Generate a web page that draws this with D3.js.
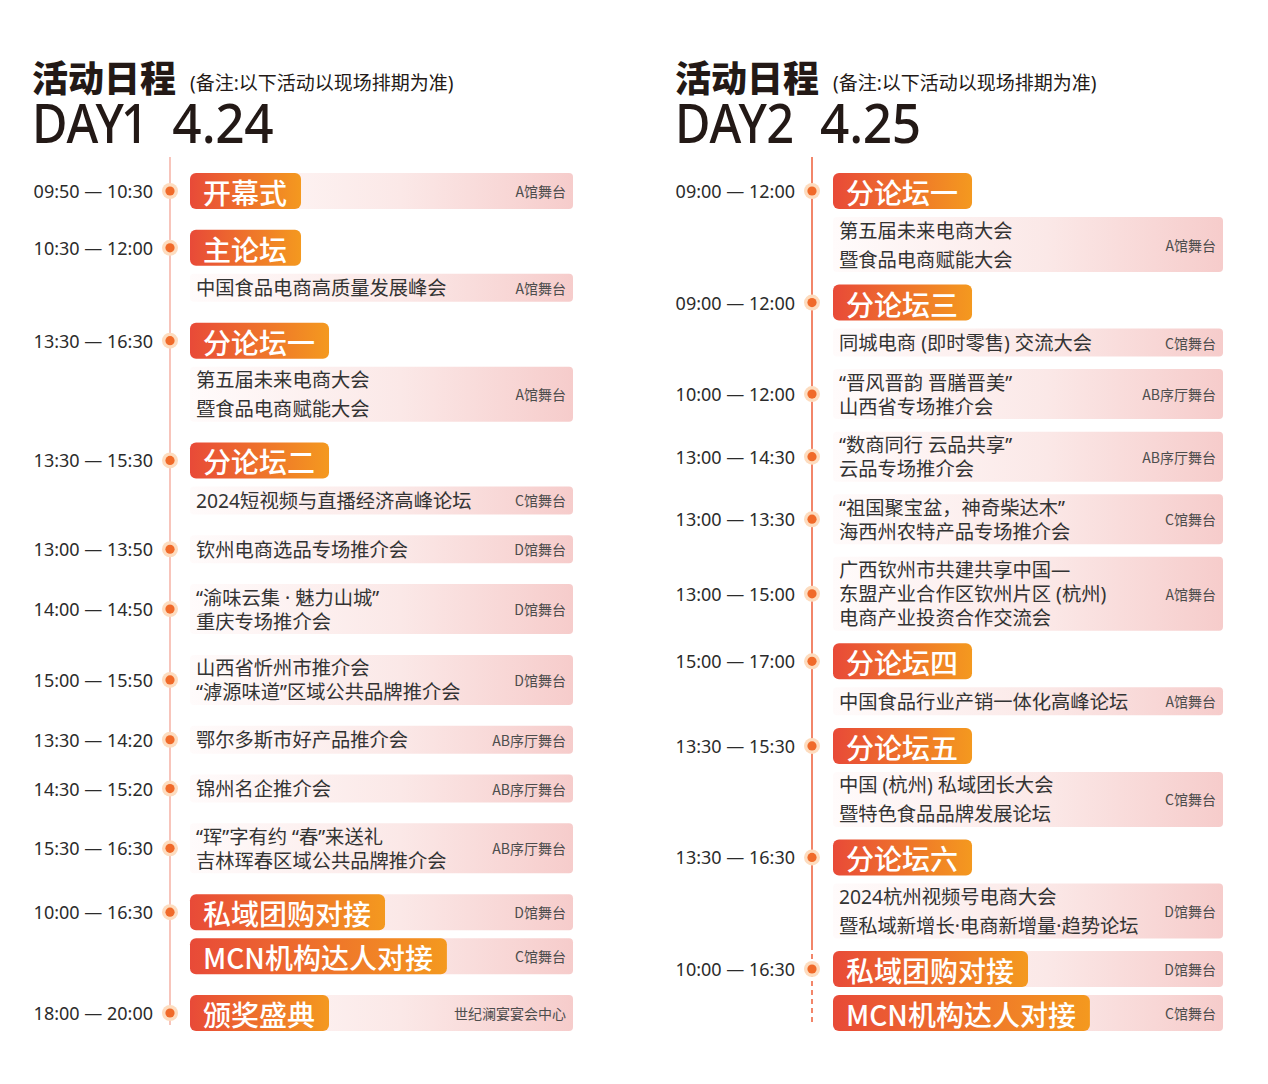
<!DOCTYPE html>
<html>
<head>
<meta charset="utf-8">
<script src="https://cdn.jsdelivr.net/npm/d3@7"></script>
<style>
  body { margin: 0; background: #fff; }
  svg { display: block; font-family: "Noto Sans CJK SC", "Noto Sans", sans-serif; }
  .latin { font-family: "Noto Sans", "Noto Sans CJK SC", sans-serif; }
  .pnum { font-variant-numeric: proportional-nums; }
</style>
</head>
<body>
<svg id="chart" width="1268" height="1084"></svg>
<script>
// ---- data ----
const headTitle = "活动日程";
const headNote = "(备注:以下活动以现场排期为准)";
const dayNames = ["DAY1", "DAY2"];
const dayDates = ["4.24", "4.25"];

const day1Times = [
  "09:50 — 10:30", "10:30 — 12:00", "13:30 — 16:30", "13:30 — 15:30",
  "13:00 — 13:50", "14:00 — 14:50", "15:00 — 15:50", "13:30 — 14:20",
  "14:30 — 15:20", "15:30 — 16:30", "10:00 — 16:30", "18:00 — 20:00"
];
const day1Blocks = [
  { slot: 0, badge: "开幕式", stage: "A馆舞台" },
  { slot: 1, badge: "主论坛" },
  { slot: 1, lines: ["中国食品电商高质量发展峰会"], stage: "A馆舞台" },
  { slot: 2, badge: "分论坛一" },
  { slot: 2, lines: ["第五届未来电商大会", "暨食品电商赋能大会"], stage: "A馆舞台" },
  { slot: 3, badge: "分论坛二" },
  { slot: 3, lines: ["2024短视频与直播经济高峰论坛"], stage: "C馆舞台" },
  { slot: 4, lines: ["钦州电商选品专场推介会"], stage: "D馆舞台" },
  { slot: 5, lines: ["“渝味云集 · 魅力山城”", "重庆专场推介会"], stage: "D馆舞台" },
  { slot: 6, lines: ["山西省忻州市推介会", "“滹源味道”区域公共品牌推介会"], stage: "D馆舞台" },
  { slot: 7, lines: ["鄂尔多斯市好产品推介会"], stage: "AB序厅舞台" },
  { slot: 8, lines: ["锦州名企推介会"], stage: "AB序厅舞台" },
  { slot: 9, lines: ["“珲”字有约 “春”来送礼", "吉林珲春区域公共品牌推介会"], stage: "AB序厅舞台" },
  { slot: 10, badge: "私域团购对接", stage: "D馆舞台" },
  { slot: 10, badge: "MCN机构达人对接", stage: "C馆舞台" },
  { slot: 11, badge: "颁奖盛典", stage: "世纪澜宴宴会中心" }
];

const day2Times = [
  "09:00 — 12:00", "09:00 — 12:00", "10:00 — 12:00", "13:00 — 14:30",
  "13:00 — 13:30", "13:00 — 15:00", "15:00 — 17:00", "13:30 — 15:30",
  "13:30 — 16:30", "10:00 — 16:30"
];
const day2Blocks = [
  { slot: 0, badge: "分论坛一" },
  { slot: 0, lines: ["第五届未来电商大会", "暨食品电商赋能大会"], stage: "A馆舞台" },
  { slot: 1, badge: "分论坛三" },
  { slot: 1, lines: ["同城电商 (即时零售) 交流大会"], stage: "C馆舞台" },
  { slot: 2, lines: ["“晋风晋韵 晋膳晋美”", "山西省专场推介会"], stage: "AB序厅舞台" },
  { slot: 3, lines: ["“数商同行 云品共享”", "云品专场推介会"], stage: "AB序厅舞台" },
  { slot: 4, lines: ["“祖国聚宝盆，神奇柴达木”", "海西州农特产品专场推介会"], stage: "C馆舞台" },
  { slot: 5, lines: ["广西钦州市共建共享中国—", "东盟产业合作区钦州片区 (杭州)", "电商产业投资合作交流会"], stage: "A馆舞台" },
  { slot: 6, badge: "分论坛四" },
  { slot: 6, lines: ["中国食品行业产销一体化高峰论坛"], stage: "A馆舞台" },
  { slot: 7, badge: "分论坛五" },
  { slot: 7, lines: ["中国 (杭州) 私域团长大会", "暨特色食品品牌发展论坛"], stage: "C馆舞台" },
  { slot: 8, badge: "分论坛六" },
  { slot: 8, lines: ["2024杭州视频号电商大会", "暨私域新增长·电商新增量·趋势论坛"], stage: "D馆舞台" },
  { slot: 9, badge: "私域团购对接", stage: "D馆舞台" },
  { slot: 9, badge: "MCN机构达人对接", stage: "C馆舞台" }
];

// ---- layout ----
const svg = d3.select("#chart");
const defs = svg.append("defs");

const badgeGrad = defs.append("linearGradient").attr("id", "badgeGrad");
badgeGrad.append("stop").attr("offset", "0%").attr("stop-color", "#e84a38");
badgeGrad.append("stop").attr("offset", "100%").attr("stop-color", "#f4991f");

const boxGrad = defs.append("linearGradient").attr("id", "boxGrad");
boxGrad.append("stop").attr("offset", "0%").attr("stop-color", "#fffbfb");
boxGrad.append("stop").attr("offset", "55%").attr("stop-color", "#fbe8e7");
boxGrad.append("stop").attr("offset", "100%").attr("stop-color", "#f6cccb");

const columns = [
  { x0: 32, lineX: 170, boxX: 190, boxR: 573, line: "#f6b6aa", dashFrom: null },
  { x0: 675, lineX: 812, boxX: 833, boxR: 1223, line: "#ef6845", dashFrom: 945 }
];

const TOP = 173, BOTTOM = 1031;
const BADGE_H = 36, INNER_GAP = 8;

function blockHeight(b) {
  if (b.badge) return BADGE_H;
  const n = b.lines.length;
  if (n === 1) return 28;
  return b.afterBadge ? 26 + (n - 1) * 29 : 26 + (n - 1) * 24;
}

function layout(blocks, nSlots) {
  blocks.forEach((b, i) => {
    b.afterBadge = i > 0 && blocks[i - 1].slot === b.slot && !!blocks[i - 1].badge;
    b.h = blockHeight(b);
  });
  let used = d3.sum(blocks, b => b.h);
  blocks.forEach((b, i) => { if (i > 0 && blocks[i - 1].slot === b.slot) used += INNER_GAP; });
  const slotGap = (BOTTOM - TOP - used) / (nSlots - 1);
  let y = TOP;
  blocks.forEach((b, i) => {
    if (i > 0) y += blocks[i - 1].slot === b.slot ? INNER_GAP : slotGap;
    b.y = y;
    y += b.h;
  });
}

// narrow a text to k of its natural width, return the new width
function squeeze(sel, k) {
  const w = sel.node().getComputedTextLength() * k;
  sel.attr("textLength", w).attr("lengthAdjust", "spacingAndGlyphs");
  return w;
}

function drawDay(idx, times, blocks) {
  const col = columns[idx];
  const g = svg.append("g");
  layout(blocks, times.length);

  // header
  g.append("text").attr("x", col.x0).attr("y", 92)
    .attr("font-size", 36).attr("font-weight", 900).attr("fill", "#231916")
    .text(headTitle);
  g.append("text").attr("class", "latin").attr("x", col.x0 + 158).attr("y", 90)
    .attr("font-size", 19).attr("fill", "#231916")
    .text(headNote);
  const dn = g.append("text").attr("class", "latin pnum").attr("x", col.x0).attr("y", 143)
    .attr("font-size", 54).attr("font-weight", 500).attr("fill", "#231916")
    .text(dayNames[idx]);
  const nameW = squeeze(dn, 0.9);
  const dd = g.append("text").attr("class", "latin pnum").attr("x", col.x0 + nameW + 26).attr("y", 143)
    .attr("font-size", 54).attr("font-weight", 500).attr("fill", "#231916")
    .text(dayDates[idx]);
  squeeze(dd, 0.95);

  // timeline
  const lineTop = 157, lineBottom = 1025;
  const solidEnd = col.dashFrom || lineBottom;
  g.append("line").attr("x1", col.lineX).attr("x2", col.lineX)
    .attr("y1", lineTop).attr("y2", solidEnd)
    .attr("stroke", col.line).attr("stroke-width", 1.6);
  if (col.dashFrom) {
    g.append("line").attr("x1", col.lineX).attr("x2", col.lineX)
      .attr("y1", col.dashFrom).attr("y2", lineBottom)
      .attr("stroke", col.line).attr("stroke-width", 1.6)
      .attr("stroke-dasharray", "5,4");
  }

  // boxes with stage
  const stageBars = blocks.filter(b => b.stage);
  g.selectAll("rect.bar").data(stageBars).join("rect")
    .attr("class", "bar")
    .attr("x", col.boxX).attr("y", b => b.y)
    .attr("width", col.boxR - col.boxX).attr("height", b => b.h)
    .attr("rx", 4).attr("fill", "url(#boxGrad)");

  g.selectAll("text.stage").data(stageBars).join("text")
    .attr("class", "stage")
    .attr("x", col.boxR - 7).attr("y", b => b.y + b.h / 2)
    .attr("text-anchor", "end").attr("dominant-baseline", "central")
    .attr("font-size", 14).attr("fill", "#4d4d4d")
    .text(b => b.stage);

  // badges
  const badges = blocks.filter(b => b.badge);
  const bg = g.selectAll("g.badge").data(badges).join("g").attr("class", "badge");
  const bRect = bg.append("rect")
    .attr("x", col.boxX).attr("y", b => b.y)
    .attr("height", BADGE_H).attr("rx", 6)
    .attr("fill", "url(#badgeGrad)");
  const bText = bg.append("text")
    .attr("x", col.boxX + 13).attr("y", b => b.y + BADGE_H / 2 + 1)
    .attr("dominant-baseline", "central")
    .attr("font-size", 28).attr("font-weight", 500).attr("fill", "#fff")
    .text(b => b.badge);
  bText.each(function (b) { b.tw = this.getComputedTextLength(); });
  bRect.attr("width", b => b.tw + 27);

  // text lines
  const textBlocks = blocks.filter(b => b.lines);
  g.selectAll("text.desc").data(textBlocks).join("text")
    .attr("class", "desc latin")
    .attr("font-size", 19.3).attr("fill", "#333")
    .each(function (b) {
      const step = b.afterBadge ? 29 : 24;
      const c = b.y + b.h / 2 - (b.lines.length - 1) * step / 2;
      d3.select(this).selectAll("tspan").data(b.lines).join("tspan")
        .attr("x", col.boxX + 6)
        .attr("y", (d, i) => c + i * step)
        .attr("dominant-baseline", "central")
        .text(d => d);
    });

  // dots and times
  const anchors = times.map((t, s) => {
    const first = blocks.find(b => b.slot === s);
    return { time: t, y: first.y + first.h / 2 };
  });
  g.selectAll("circle.halo").data(anchors).join("circle")
    .attr("class", "halo").attr("cx", col.lineX).attr("cy", d => d.y)
    .attr("r", 8).attr("fill", "#fddcbf");
  g.selectAll("circle.dot").data(anchors).join("circle")
    .attr("class", "dot").attr("cx", col.lineX).attr("cy", d => d.y)
    .attr("r", 4.6).attr("fill", "#f06a2a");
  g.selectAll("text.time").data(anchors).join("text")
    .attr("class", "time latin")
    .attr("x", col.lineX - 17).attr("y", d => d.y)
    .attr("text-anchor", "end").attr("dominant-baseline", "central")
    .attr("font-size", 18).attr("fill", "#2b2b2b")
    .text(d => d.time);
}

drawDay(0, day1Times, day1Blocks);
drawDay(1, day2Times, day2Blocks);
</script>
</body>
</html>
